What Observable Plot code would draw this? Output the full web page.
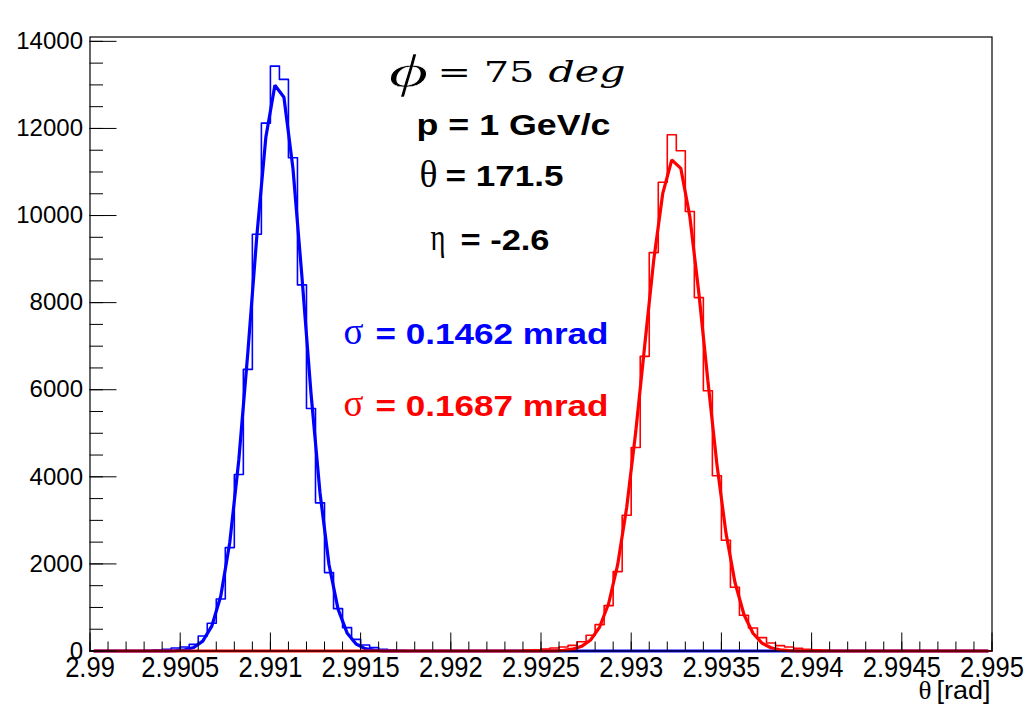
<!DOCTYPE html>
<html><head><meta charset="utf-8">
<script src="https://cdn.jsdelivr.net/npm/d3@7"></script>
<script src="https://cdn.jsdelivr.net/npm/@observablehq/plot@0.6"></script>
<style>html,body{margin:0;padding:0;background:#fff}svg{display:block}</style>
</head><body><div id="chart"></div>
<script>
// ---------- data ----------
const xMin = 2.99, xMax = 2.995, nBins = 100;
const yTop = 14100;
// blue histogram: counts for bins starting at bin index 6
const blueFirstBin = 6;
const blueCounts = [10, 20, 38, 69, 92, 153, 345, 636, 1195, 2375, 4053, 6467, 9570, 12122, 13432, 13126, 11326, 8407, 5570, 3402, 1800, 973, 536, 268, 138, 77, 40, 20, 10];
// blue gaussian fit, values at bin centres starting at bin index 8
const blueFitFirstBin = 8;
const blueFit = [2, 7, 26, 81, 228, 570, 1264, 2497, 4392, 6860, 9540, 11805, 12992, 12718, 11084, 8588, 5921, 3630, 1980, 962, 416, 160, 55, 17, 4];
// red histogram: counts for bins starting at bin index 48
const redFirstBin = 48;
const redCounts = [20, 30, 46, 69, 92, 130, 214, 360, 605, 1042, 1823, 3119, 4674, 6766, 9149, 10766, 11854, 11487, 10092, 8115, 5977, 4023, 2545, 1464, 820, 529, 307, 184, 123, 92, 61, 40, 25, 15];
// red gaussian fit, values at bin centres starting at bin index 50
const redFitFirstBin = 50;
const redFit = [1, 5, 15, 42, 107, 253, 550, 1091, 1982, 3296, 5028, 7021, 8981, 10510, 11280, 11084, 9977, 8222, 6206, 4292, 2718, 1578, 838, 408, 182, 74, 28, 10, 3];

const xTicks = [2.99, 2.9905, 2.991, 2.9915, 2.992, 2.9925, 2.993, 2.9935, 2.994, 2.9945, 2.995];
const xTickLabels = ["2.99", "2.9905", "2.991", "2.9915", "2.992", "2.9925", "2.993", "2.9935", "2.994", "2.9945", "2.995"];
const yTicks = [0, 2000, 4000, 6000, 8000, 10000, 12000, 14000];
const yTickLabels = ["0", "2000", "4000", "6000", "8000", "10000", "12000", "14000"];
const xMinorStep = 0.0001, yMinorStep = 500;

// ---------- build tables ----------
const binW = (xMax - xMin) / nBins;
function histPoints(first, counts) {
  const pts = [];
  for (let i = 0; i < nBins; i++) {
    const k = i - first;
    pts.push({x: xMin + i * binW, y: k >= 0 && k < counts.length ? counts[k] : 0});
  }
  pts.push({x: xMax, y: pts[pts.length - 1].y});
  return pts;
}
function fitPoints(first, vals) {
  const pts = [];
  for (let i = 0; i < nBins; i++) {
    const k = i - first;
    pts.push({x: xMin + (i + 0.5) * binW, y: k >= 0 && k < vals.length ? vals[k] : 0});
  }
  return pts;
}
const blueH = histPoints(blueFirstBin, blueCounts), blueF = fitPoints(blueFitFirstBin, blueFit);
const redH = histPoints(redFirstBin, redCounts), redF = fitPoints(redFitFirstBin, redFit);
const xMinor = d3.range(0, Math.round((xMax - xMin) / xMinorStep) + 1).map(i => xMin + i * xMinorStep);
const yMinor = d3.range(0, Math.floor(yTop / yMinorStep) + 1).map(i => i * yMinorStep);

// ---------- layout ----------
const W = 1028, H = 707;
const mL = 89.5, mR = 36.5, mT = 36.5, mB = 56.5;
const fw = W - mL - mR, fh = H - mT - mB;
const SANS = "Liberation Sans, Arial, Helvetica, sans-serif";
const SERIF = "Liberation Serif, Times New Roman, serif";
const MATH = "DejaVu Serif, serif";
const BLUE = "#0000ff", RED = "#ff0000";

// annotation layout: absolute pixel left edge, baseline, target width
const notes = [
  {t: "ϕ", x: 388, b: 86, w: 40, f: SERIF, s: 46, st: "italic", fw: "normal", c: "black", thin: true},
  {t: "= 75", x: 437, b: 81, w: 97, f: MATH, s: 28, st: "normal", fw: "normal", c: "black"},
  {t: "deg", x: 548, b: 81, w: 77, f: MATH, s: 29, st: "italic", fw: "normal", c: "black"},
  {t: "p = 1 GeV/c", x: 416, b: 134.3, w: 194, f: SANS, s: 29, st: "normal", fw: "bold", c: "black"},
  {t: "θ", x: 419, b: 186, w: 18, f: SERIF, s: 37, st: "normal", fw: "normal", c: "black"},
  {t: "= 171.5", x: 445, b: 185, w: 118, f: SANS, s: 29, st: "normal", fw: "bold", c: "black"},
  {t: "η", x: 430, b: 249, w: 15, f: SERIF, s: 37, st: "normal", fw: "normal", c: "black"},
  {t: "= -2.6", x: 460, b: 249, w: 89, f: SANS, s: 29, st: "normal", fw: "bold", c: "black"},
  {t: "σ", x: 343, b: 343.3, w: 20, f: SERIF, s: 37, st: "normal", fw: "normal", c: BLUE},
  {t: "= 0.1462 mrad", x: 375, b: 343.3, w: 233, f: SANS, s: 29, st: "normal", fw: "bold", c: BLUE},
  {t: "σ", x: 343, b: 415, w: 20, f: SERIF, s: 37, st: "normal", fw: "normal", c: RED},
  {t: "= 0.1687 mrad", x: 375, b: 415, w: 233, f: SANS, s: 29, st: "normal", fw: "bold", c: RED},
  {t: "θ", x: 918, b: 698, w: 13, f: SERIF, s: 26, st: "normal", fw: "normal", c: "black"},
  {t: "[rad]", x: 936, b: 698, w: 54, f: SANS, s: 25, st: "normal", fw: "normal", c: "black"}
];
const noteMarks = notes.map(n => Plot.text([n.t], {
  text: d => d, frameAnchor: "top-left", dx: n.x - mL, dy: n.b - mT,
  textAnchor: "start", lineAnchor: "bottom", fontFamily: n.f, fontSize: n.s,
  fontStyle: n.st, fontWeight: n.fw, fill: n.c
}));

const chart = Plot.plot({
  width: W, height: H,
  marginLeft: mL, marginRight: mR, marginTop: mT, marginBottom: mB,
  x: {domain: [xMin, xMax], axis: null},
  y: {domain: [0, yTop], axis: null},
  style: {fontFamily: SANS, background: "white", color: "black"},
  marks: [
    Plot.lineY(blueH, {x: "x", y: "y", curve: "step-after", stroke: BLUE, strokeWidth: 1.6}),
    Plot.lineY(blueF, {x: "x", y: "y", stroke: BLUE, strokeWidth: 3.2, strokeLinejoin: "miter"}),
    Plot.lineY(redH, {x: "x", y: "y", curve: "step-after", stroke: RED, strokeWidth: 1.6}),
    Plot.lineY(redF, {x: "x", y: "y", stroke: RED, strokeWidth: 3.2, strokeLinejoin: "miter"}),
    // x ticks (inward)
    Plot.tickX(xMinor, {x: d => d, stroke: "black", strokeWidth: 1, insetTop: fh - 9}),
    Plot.tickX(xTicks, {x: d => d, stroke: "black", strokeWidth: 1, insetTop: fh - 18}),
    // y ticks (inward)
    Plot.tickY(yMinor, {y: d => d, stroke: "black", strokeWidth: 1, insetRight: fw - 13.5}),
    Plot.tickY(yTicks, {y: d => d, stroke: "black", strokeWidth: 1, insetRight: fw - 27}),
    Plot.frame({stroke: "black", strokeWidth: 1.2}),
    Plot.axisX(xTicks, {anchor: "bottom", tickSize: 0, tickPadding: 5, fontSize: 29, label: null,
      tickFormat: d => xTickLabels[xTicks.indexOf(d)], fill: "black"}),
    Plot.axisY(yTicks, {anchor: "left", tickSize: 0, tickPadding: 7, fontSize: 24, label: null,
      tickFormat: d => yTickLabels[yTicks.indexOf(d)], fill: "black"}),
    ...noteMarks
  ]
});
document.getElementById("chart").appendChild(chart);

// stretch annotation texts to the widths measured on the reference
const allText = Array.from(chart.querySelectorAll("text"));
const used = new Set();
notes.forEach(n => {
  const t = allText.find(e => !used.has(e) && e.textContent === n.t);
  if (t) {
    used.add(t);
    t.setAttribute("textLength", n.w);
    t.setAttribute("lengthAdjust", "spacingAndGlyphs");
    if (n.thin) {
      // thin the heavy glyph strokes slightly so it looks like the light math phi
      t.setAttribute("stroke", "white");
      t.setAttribute("stroke-width", 0.7);
      t.setAttribute("paint-order", "fill");
    }
  }
});
// x tick labels are slightly condensed in the reference
allText.filter(e => xTickLabels.includes(e.textContent) && !used.has(e)).forEach(t => {
  const len = t.getComputedTextLength();
  t.setAttribute("textLength", len * 0.88);
  t.setAttribute("lengthAdjust", "spacingAndGlyphs");
});
</script></body></html>
